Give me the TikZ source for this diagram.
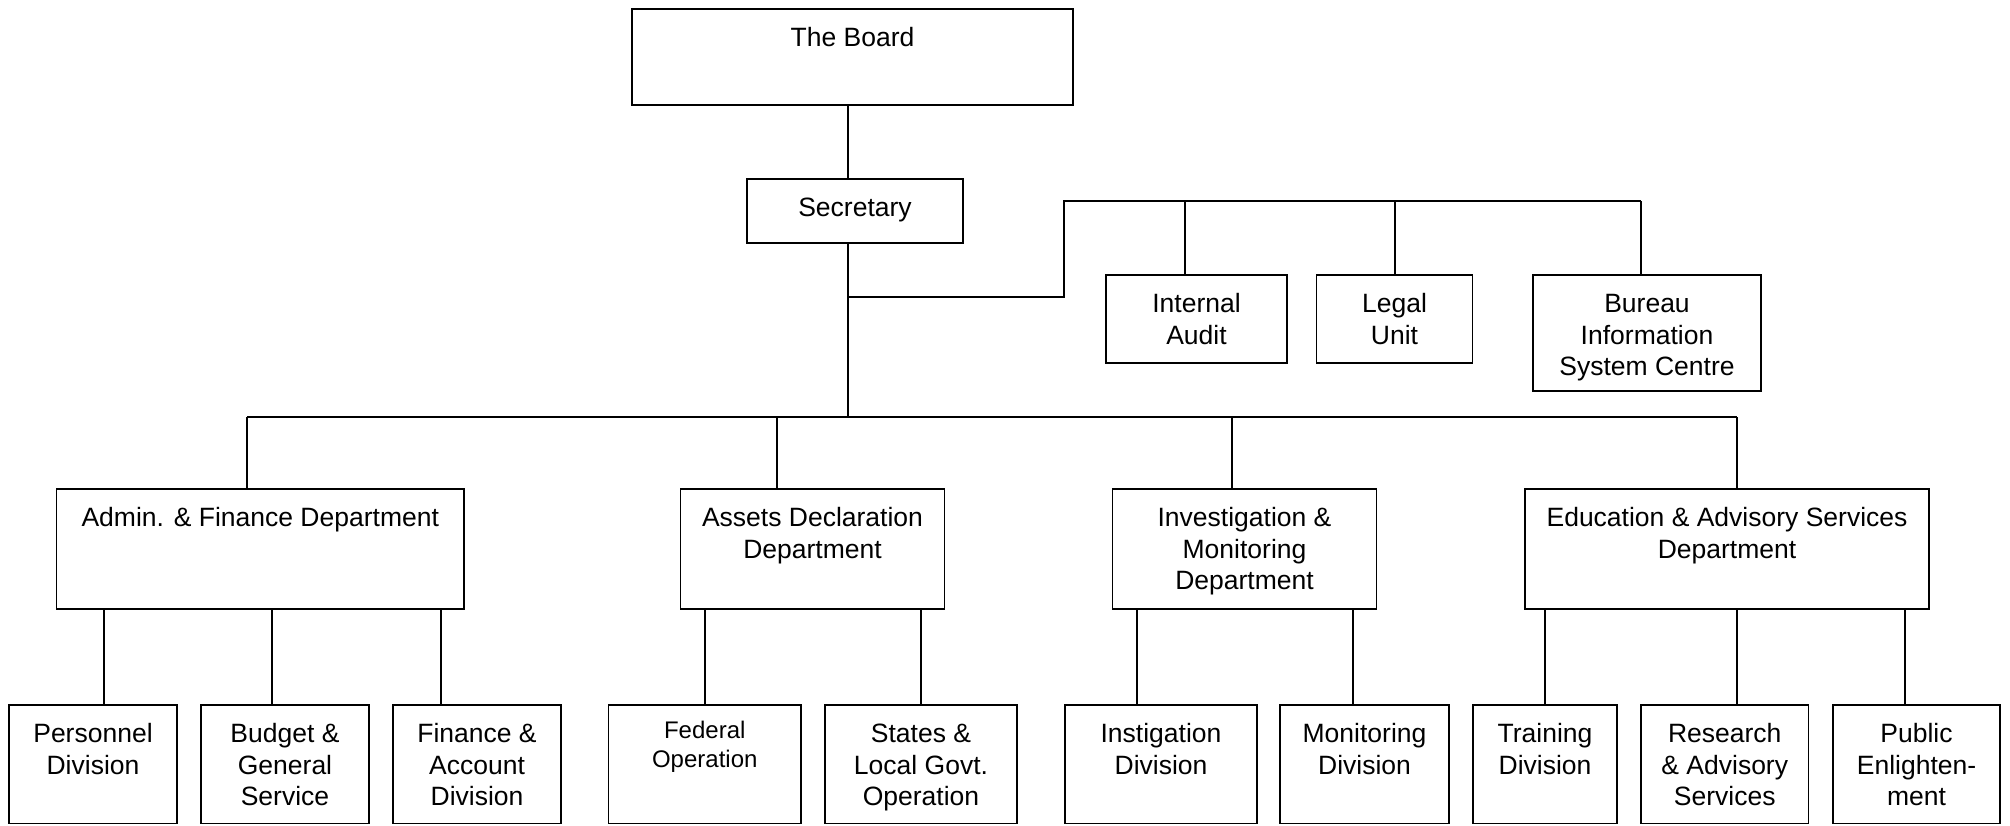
\documentclass[tikz,border=0pt]{standalone}
\usepackage{fontspec}
\setmainfont{Liberation Sans}
\tikzset{
  orgnode/.style={draw, line width=1.8pt, inner sep=0pt, outer sep=0pt},
  conn/.style={line width=1.8pt}
}
\newcommand{\orgbox}[7][\fontsize{26.5}{31.5}\selectfont\rule{0pt}{37.5pt}]{%
  \node[orgnode] (#2) at ({(#3+#5)/2},{(#4+#6)/2})
    {\parbox[c][\dimexpr#6pt-#4pt\relax][t]{\dimexpr#5pt-#3pt\relax}{\centering#1#7}};}
\begin{document}
\begin{tikzpicture}[x=1pt,y=-1pt]
\useasboundingbox (0,0) rectangle (2010,825);
% top
\orgbox{board}{632}{9}{1073}{105}{The Board}
\orgbox{sec}{747}{179}{963}{243}{Secretary}
% staff units
\orgbox{ia}{1106}{275}{1287}{363}{Internal\\Audit}
\orgbox{legal}{1316.5}{275}{1472.5}{363}{Legal\\Unit}
\orgbox{bis}{1533}{275}{1761}{391}{Bureau\\Information\\System Centre}
% departments
\orgbox{admin}{56.5}{489}{464}{609}{Admin. \& Finance Department}
\orgbox{assets}{680.5}{489}{944.5}{609}{Assets Declaration\\Department}
\orgbox{inv}{1112.5}{489}{1376.5}{609}{Investigation \&\\Monitoring\\Department}
\orgbox{edu}{1525}{489}{1929}{609}{Education \& Advisory Services\\Department}
% divisions
\orgbox{per}{9}{705}{177}{823.5}{Personnel\\Division}
\orgbox{bud}{201}{705}{369}{823.5}{Budget \&\\General\\Service}
\orgbox{fin}{393}{705}{561}{823.5}{Finance \&\\Account\\Division}
\orgbox[\fontsize{24}{29}\selectfont\rule{0pt}{33.5pt}]{fed}{608.5}{705}{801}{823.5}{Federal\\Operation}
\orgbox{sta}{825}{705}{1017}{823.5}{States \&\\Local Govt.\\Operation}
\orgbox{ins}{1065}{705}{1257}{823.5}{Instigation\\Division}
\orgbox{mon}{1280}{705}{1449}{823.5}{Monitoring\\Division}
\orgbox{tra}{1473}{705}{1617}{823.5}{Training\\Division}
\orgbox{res}{1641}{705}{1808.5}{823.5}{Research\\\& Advisory\\Services}
\orgbox{pub}{1833}{705}{2000}{823.5}{Public\\Enlighten-\\ment}
% junctions
\coordinate (hub) at (848,417);
\coordinate (staff) at (848,297);
\coordinate (sbend) at (1064,297);
\coordinate (stop) at (1064,201);
\coordinate (sright) at (1641,201);
\coordinate (busL) at (247,417);
\coordinate (busR) at (1737,417);
% trunk
\draw[conn] (board.south -| hub) -- (sec.north -| hub);
\draw[conn] (sec.south -| hub) -- (hub);
% staff branch
\draw[conn] (staff) -- (sbend) -- (stop) -- (sright);
\draw[conn] (stop -| 1185,0) -- (ia.north -| 1185,0);
\draw[conn] (stop -| 1395,0) -- (legal.north -| 1395,0);
\draw[conn] (sright) -- (bis.north -| sright);
% bus
\draw[conn] (busL) -- (busR);
\draw[conn] (busL) -- (admin.north -| busL);
\draw[conn] (hub -| 777,0) -- (assets.north -| 777,0);
\draw[conn] (hub -| 1232,0) -- (inv.north -| 1232,0);
\draw[conn] (busR) -- (edu.north -| busR);
% divisions
\draw[conn] (admin.south -| 104,0) -- (per.north -| 104,0);
\draw[conn] (admin.south -| 272,0) -- (bud.north -| 272,0);
\draw[conn] (admin.south -| 441,0) -- (fin.north -| 441,0);
\draw[conn] (assets.south -| 705,0) -- (fed.north -| 705,0);
\draw[conn] (assets.south -| 921,0) -- (sta.north -| 921,0);
\draw[conn] (inv.south -| 1137,0) -- (ins.north -| 1137,0);
\draw[conn] (inv.south -| 1353,0) -- (mon.north -| 1353,0);
\draw[conn] (edu.south -| 1545,0) -- (tra.north -| 1545,0);
\draw[conn] (edu.south -| busR) -- (res.north -| busR);
\draw[conn] (edu.south -| 1905,0) -- (pub.north -| 1905,0);
\end{tikzpicture}
\end{document}
